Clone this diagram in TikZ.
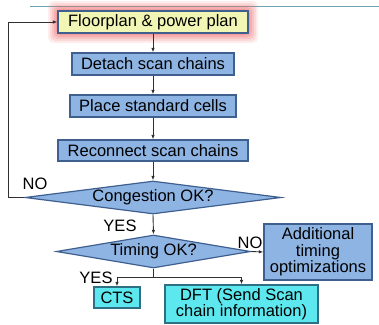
\documentclass[tikz,border=0pt]{standalone}
\usepackage{fontspec}
\setmainfont{Liberation Sans}
\usetikzlibrary{shapes.geometric,arrows.meta,calc}
\definecolor{bluefill}{HTML}{8EB4E3}
\definecolor{blueline}{HTML}{3F5F8F}
\definecolor{cyanfill}{HTML}{5CE8EE}
\definecolor{cyanline}{HTML}{2F6F85}
\definecolor{yelfill}{HTML}{F2F6B4}
\definecolor{glow}{HTML}{EE7070}
\definecolor{topline}{HTML}{6FA3B3}
\definecolor{conn}{HTML}{303030}
\begin{document}
\begin{tikzpicture}[x=1bp,y=-1bp,
  every node/.style={font=\fontsize{16.5bp}{16.5bp}\selectfont, inner sep=0pt, align=center},
  bluebox/.style={draw=blueline, line width=1.2bp, fill=bluefill, rectangle},
  cyanbox/.style={draw=cyanline, line width=1.2bp, fill=cyanfill, rectangle},
  yelbox/.style={draw=blueline, line width=1.2bp, fill=yelfill, rectangle},
  decision/.style={draw=blueline, line width=1.2bp, fill=bluefill, diamond, aspect=7},
  conn/.style={draw=conn, line width=0.9bp},
  arr/.style={conn, -{Latex[length=4.5bp,width=3.5bp]}},
  lbl/.style={font=\fontsize{16.5bp}{16.5bp}\selectfont}
]
\useasboundingbox (0,0) rectangle (379,325);
\draw[topline, line width=1bp] (30,6) -- (379,6);
% glow
\foreach \e/\o in {10/0.12,8/0.16,6/0.2,4/0.25,2/0.3}{
  \fill[glow, opacity=\o, rounded corners=5bp] ($(58,11)+(-\e,-\e)$) rectangle ($(248,33)+(\e,\e)$);
}
\node[yelbox, minimum width=190bp, minimum height=22bp] (floor) at (153,22) {Floorplan \& power plan};
\node[bluebox, minimum width=162bp, minimum height=22bp] (detach) at (153,64) {Detach scan chains};
\node[bluebox, minimum width=166bp, minimum height=22bp] (place) at (153,106) {Place standard cells};
\node[bluebox, minimum width=190bp, minimum height=21bp] (recon) at (153,150.5) {Reconnect scan chains};
\node[decision, minimum width=256bp, minimum height=33bp] (cong) at (153,197.5) {Congestion OK?};
\node[decision, minimum width=179bp, minimum height=33bp] (timing) at (153.5,251.5) {Timing OK?};
\node[bluebox, minimum width=108bp, minimum height=56bp] (addl) at (318,252) {Additional\\timing\\optimizations};
\node[cyanbox, minimum width=46bp, minimum height=21bp] (cts) at (117,297.5) {CTS};
\node[cyanbox, minimum width=153bp, minimum height=38bp] (dft) at (241.5,304) {DFT (Send Scan\\chain information)};
\coordinate (loop) at (8,197.5);
\coordinate (split) at (153.5,277);
\draw[arr] (floor) -- (detach);
\draw[arr] (detach) -- (place);
\draw[arr] (place) -- (recon);
\draw[arr] (recon) -- (cong.north);
\draw[arr] (cong.south) -- (timing.north);
\draw[arr] (cong.west) -- (loop) |- (floor.west);
\draw[arr] (timing.east) -- (addl.west);
\draw[conn] (timing.south) -- (split);
\draw[arr] (split) -| (cts.north);
\draw[arr] (split) -| (dft.north);
\node[lbl] (no1) at (35,184) {NO};
\node[lbl] (yes1) at (120,226) {YES};
\node[lbl] (no2) at (250,243) {NO};
\node[lbl] (yes2) at (96,277.5) {YES};
\end{tikzpicture}
\end{document}
